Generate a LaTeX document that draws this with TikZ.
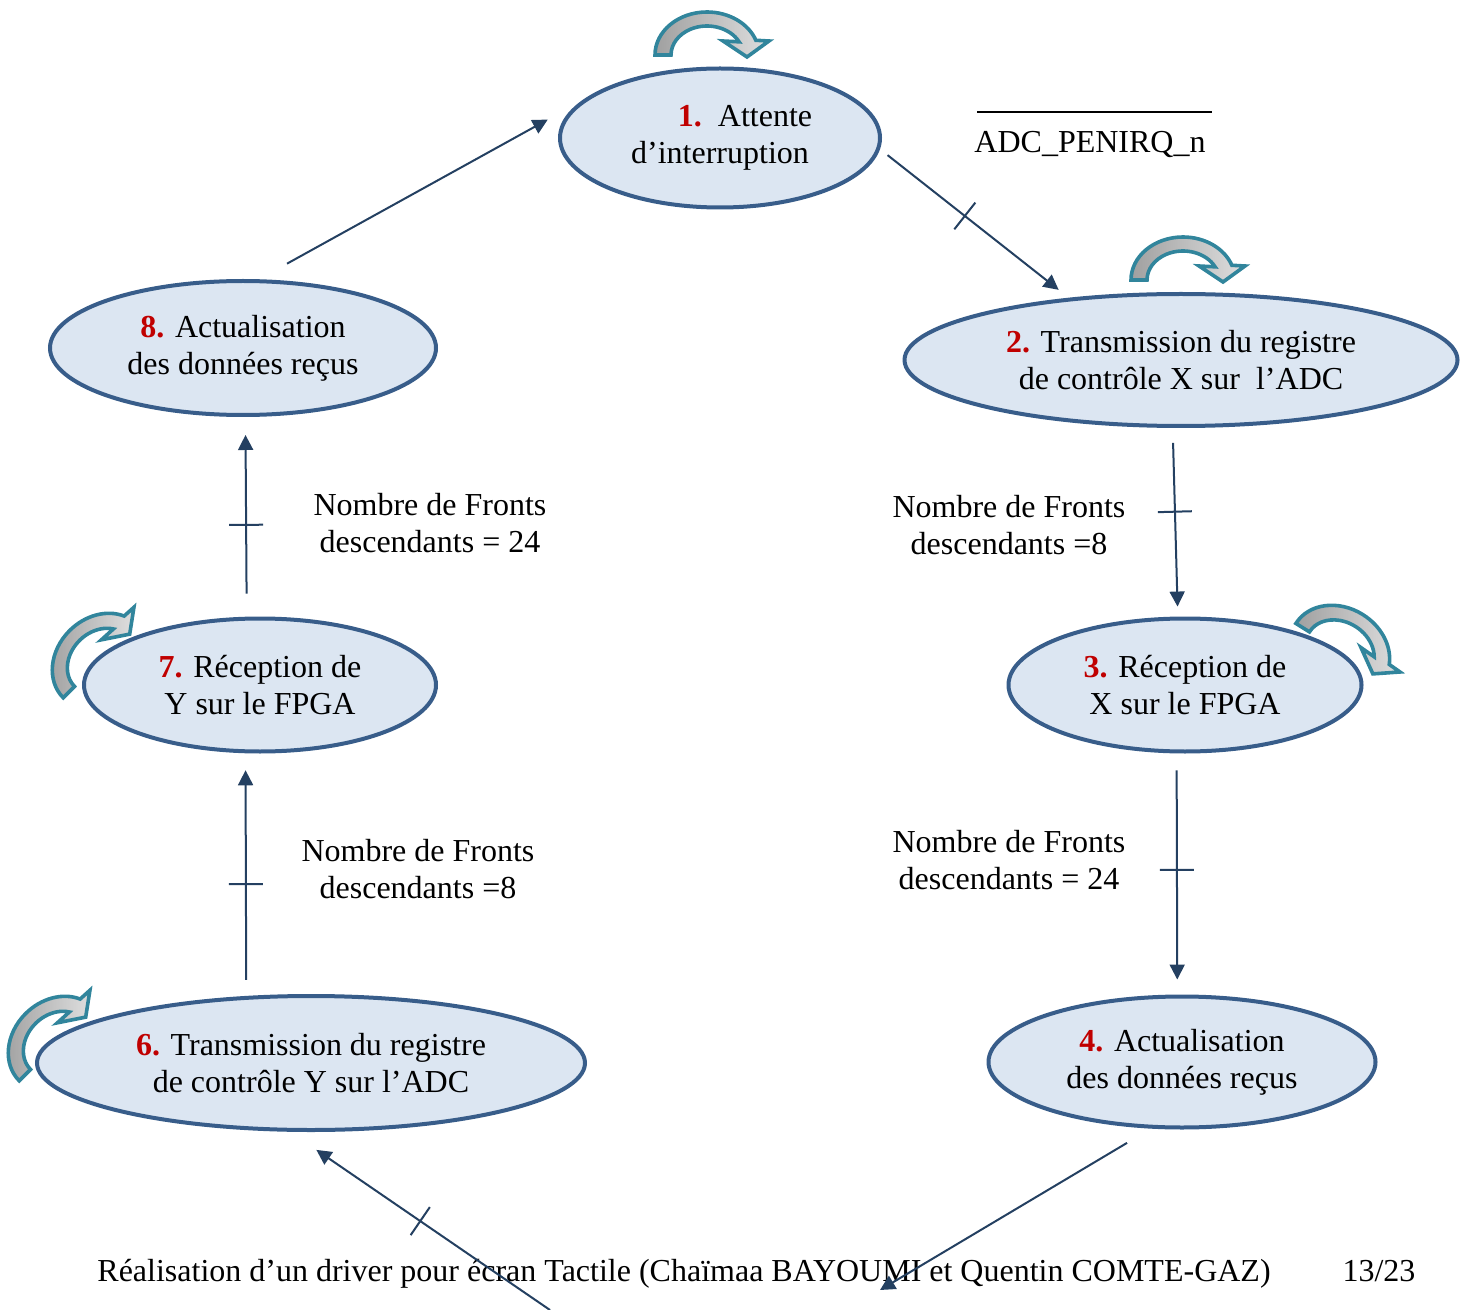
\documentclass[tikz,border=0pt]{standalone}
\usepackage{fontspec}
\setmainfont{Liberation Serif}
\usetikzlibrary{shapes.geometric,arrows.meta,decorations.markings}

\definecolor{bordure}{RGB}{56,93,138}
\definecolor{remplissage}{RGB}{220,230,242}
\definecolor{marine}{RGB}{36,64,97}
\definecolor{sarcelle}{RGB}{49,133,156}
\definecolor{rouge}{RGB}{192,0,0}
\definecolor{grisfonce}{RGB}{160,160,160}
\definecolor{grisclair}{RGB}{222,222,222}

\newcommand{\numetat}[1]{\textcolor{rouge}{\textbf{#1}}}

\tikzset{
  etat/.style={ellipse, draw=bordure, line width=2pt, fill=remplissage, inner sep=0pt,
    align=center, font=\fontsize{16}{18.4}\selectfont},
  legende/.style={align=center, inner sep=0pt, font=\fontsize{16}{18.4}\selectfont},
  fleche/.style={draw=marine, line width=1pt, -{Triangle[length=7.5pt,width=7.5pt]}},
  barre/.style={postaction={decorate, decoration={markings,
    mark=at position #1 with {\draw[-, shorten <=0pt, shorten >=0pt, draw=marine, line width=1pt] (0,-8.5pt) -- (0,8.5pt);}}}},
  boucle/.pic={
    \draw[draw=sarcelle, line width=1.8pt, line join=miter, left color=grisfonce, right color=grisclair]
      (-52,0) arc[start angle=180, end angle=340, x radius=52, y radius=43]
      -- (62,-14) -- (40,2) -- (16,-14) -- (333:36 and 29)
      arc[start angle=333, end angle=180, x radius=36, y radius=29] -- cycle;
  }
}

\begin{document}
\begin{tikzpicture}[x=0.5pt,y=-0.5pt]
\useasboundingbox (0,0) rectangle (1467,1310);

% Etats
\node[etat, minimum width=160pt, minimum height=69.5pt] (e1) at (720,138) {\hspace*{25pt}\numetat{1.}\ \ Attente\\d’interruption};
\node[etat, minimum width=276.5pt, minimum height=66pt] (e2) at (1181,360) {\numetat{2.} Transmission du registre\\de contrôle X sur\ \ l’ADC};
\node[etat, minimum width=176.5pt, minimum height=66.5pt] (e3) at (1185,685) {\numetat{3.} Réception de\\X sur le FPGA};
\node[etat, minimum width=193.5pt, minimum height=65.5pt] (e4) at (1182,1062) {\numetat{4.} Actualisation\\des données reçus};
\node[etat, minimum width=274pt, minimum height=67pt] (e6) at (311,1063) {\numetat{6.} Transmission du registre\\de contrôle Y sur l’ADC};
\node[etat, minimum width=176pt, minimum height=66.5pt] (e7) at (260,685) {\numetat{7.} Réception de\\Y sur le FPGA};
\node[etat, minimum width=193pt, minimum height=67pt] (e8) at (243,348) {\numetat{8.} Actualisation\\des données reçus};

% Boucles sur les etats
\pic at (707,55) {boucle};
\pic at (1183,280) {boucle};
\pic[rotate=-32] at (1340,651) {boucle};
\pic[rotate=45] at (100,661) {boucle};
\pic[rotate=45] at (56,1044) {boucle};

% Conditions
\node[legende, anchor=base] (irq) at (1090,153) {ADC\_PENIRQ\_n};
\draw[line width=1pt] ([xshift=1.5pt,yshift=9.5pt]irq.north west) -- ([xshift=3pt,yshift=9.5pt]irq.north east);
\node[legende] (c23) at (1009,525) {Nombre de Fronts\\descendants =8};
\node[legende] (c34) at (1009,860) {Nombre de Fronts\\descendants = 24};
\node[legende] (c67) at (418,869) {Nombre de Fronts\\descendants =8};
\node[legende] (c78) at (430,523) {Nombre de Fronts\\descendants = 24};

% Pied de page
\node[legende, anchor=base] (pied) at (684,1281) {Réalisation d’un driver pour écran Tactile (Chaïmaa BAYOUMI et Quentin COMTE-GAZ)};
\node[legende, anchor=base] (page) at (1379,1281) {13/23};

% Transitions
\coordinate (bas4) at (880,1290);
\coordinate (bas6) at (550,1310);
\draw[fleche, shorten <=16.1pt, shorten >=19.3pt] (e8.77) -- (e1.165);
\draw[fleche, barre=0.451, shorten <=4.8pt, shorten >=6.4pt] (e1.356.4) -- (e2.151.5);
\draw[fleche, barre=0.444, shorten <=7.5pt, shorten >=5pt] (e2.263.3) -- (e3.96.7);
\draw[fleche, barre=0.483, shorten <=8.5pt, shorten >=7.5pt] (e3.263.3) -- (e4.94.3);
\draw[fleche, shorten <=13.9pt] (e4.245.6) -- (bas4);
\draw[fleche, barre=0.499, shorten >=16pt] (bas6) -- (e6.253.8);
\draw[fleche, barre=0.461, shorten <=8pt, shorten >=8.5pt] (e6.134.1) -- (e7.258.3);
\draw[fleche, barre=0.46, shorten <=11.5pt, shorten >=9pt] (e7.101.7) -- (e8.272.5);

\end{tikzpicture}
\end{document}
